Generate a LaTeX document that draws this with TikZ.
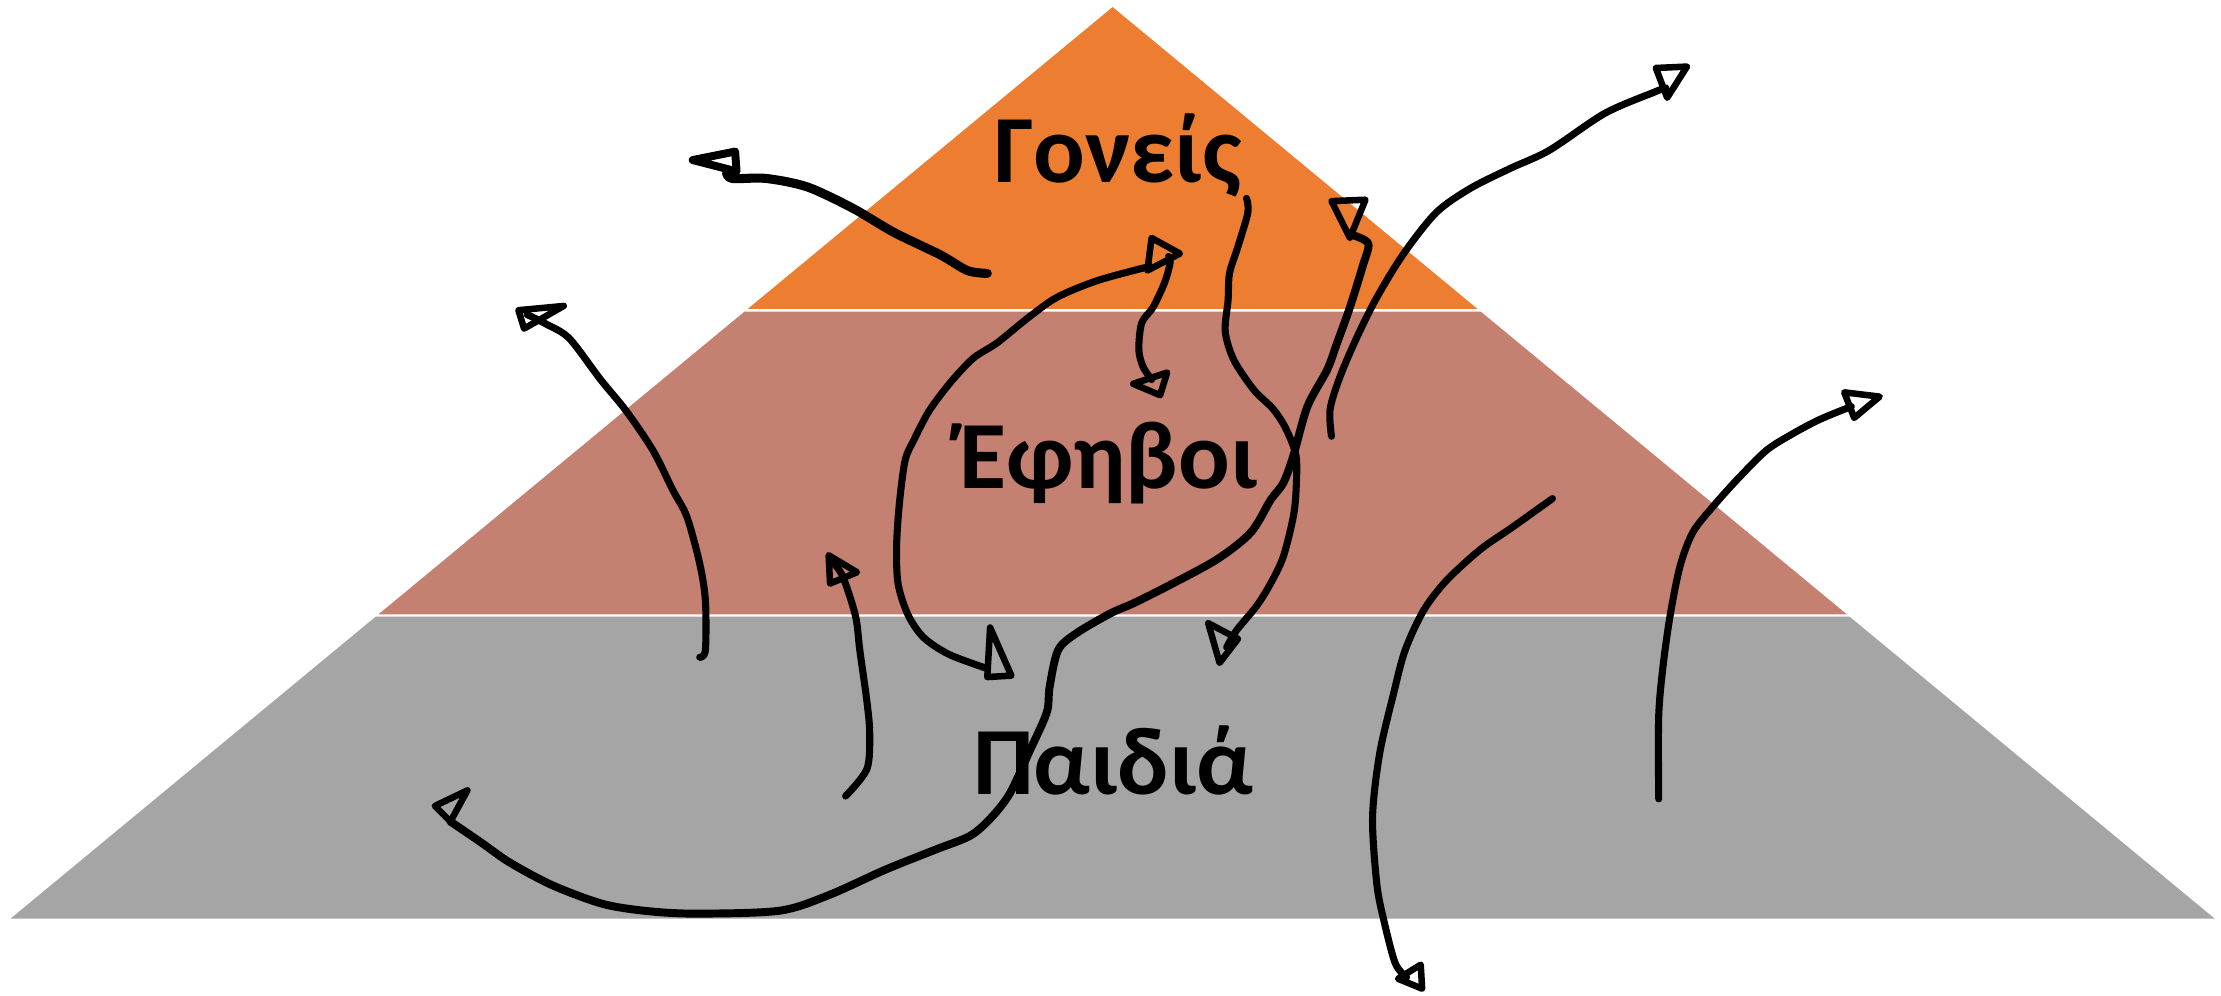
\documentclass[tikz,border=0pt]{standalone}
\usepackage{fontspec}
\setmainfont{Carlito}
\definecolor{cOrange}{HTML}{ED7D31}
\definecolor{cPink}{HTML}{C48070}
\definecolor{cGray}{HTML}{A5A5A5}
\tikzset{
  inkline/.style={draw=black, line width=5pt, line cap=round, line join=round},
  inkhead/.style={draw=black, line width=4.6pt, line cap=round, line join=round},
  layertext/.style={font=\bfseries\fontsize{68}{70}\selectfont, text=black, inner sep=0pt, anchor=base}
}
\begin{document}
\begin{tikzpicture}[x=1pt,y=-1pt]
\useasboundingbox (0,0) rectangle (1568,703);
% layers
\fill[cOrange] (785.5,5) -- (1043.1,218.1) -- (527.9,218.1) -- cycle;
\fill[cPink] (525.6,220) -- (1045.4,220) -- (1303.8,433.7) -- (267.2,433.7) -- cycle;
\fill[cGray] (265.3,435.3) -- (1305.7,435.3) -- (1563.5,648.5) -- (7.5,648.5) -- cycle;
% texts
\node[layertext] (tG) at (789,129) {Γονείς};
\node[layertext] (tE) at (782.5,345) {Έφηβοι};
\node[layertext] (tP) at (786,561) {Παιδιά};
% stroke A
\draw[inkline, line width=6.4pt] plot[smooth] coordinates {(697,193) (683,191) (664,180) (631,164) (602,147) (570,132) (541,126) (517,126) (513,122)};
\draw[inkhead, line width=5.6pt] (489,113) -- (519,107) -- (520,121) -- cycle;
% stroke B
\draw[inkline] plot[smooth] coordinates {(494,464) (498,459) (498,424) (494,398) (485,365) (475,346) (461,318) (442,290) (424,268) (402,239) (386,229) (372,222)};
\draw[inkhead] (366,219) -- (398,216) -- (370,232) -- cycle;
% stroke C
\draw[inkline] plot[smooth] coordinates {(597,562) (612,543) (614,518) (612,495) (607,459) (604,435) (595,407) (588,397)};
\draw[inkhead] (585,392) -- (605,404) -- (586,412) -- cycle;
% stroke D
\draw[inkline] plot[smooth] coordinates {(697,472) (670,462) (652,450) (641,434) (634,412) (633,385) (635,355) (639,325) (645,311) (656,290) (671,270) (687,253) (704,242) (725,225) (746,210) (775,198) (812,188)};
\draw[inkhead] (813,168) -- (833,179) -- (810,191) -- cycle;
\draw[inkhead] (699,443) -- (714,477) -- (697,478) -- cycle;
% stroke E
\draw[inkline] plot[smooth] coordinates {(825,181) (826,186) (822,200) (814,217) (806,228) (804,247) (807,259) (813,268)};
\draw[inkhead] (800,271) -- (824,263) -- (819,279) -- cycle;
% stroke F
\draw[inkline] plot[smooth] coordinates {(880,140) (881,150) (874,174) (868,193) (867,212) (865,234) (871,254) (885,275) (899,289) (908,303) (915,322) (915,346) (913,365) (906,393) (897,412) (887,428) (873,445) (866,457)};
\draw[inkhead] (853,440) -- (874,451) -- (861,468) -- cycle;
% stroke G
\draw[inkline, line width=5.6pt] plot[smooth] coordinates {(318,580) (340,595) (360,609) (390,625) (425,638) (455,643) (490,645) (550,643) (585,632) (625,614) (660,600) (685,590) (700,577) (713,560) (727,530) (739,503) (741,485) (747,459) (760,447) (784,433) (800,426) (824,414) (859,395) (883,376) (897,353) (906,341) (913,322) (923,287) (937,261) (944,242) (953,217) (962,188) (966,172) (955,166)};
\draw[inkhead] (307,569) -- (330,558) -- (318,580) -- cycle;
\draw[inkhead] (940,142) -- (964,141) -- (953,168) -- cycle;
% stroke H
\draw[inkline] plot[smooth] coordinates {(940,308) (939,289) (946,266) (958,238) (972,210) (991,179) (1014,150) (1038,133) (1066,119) (1094,106) (1133,80) (1168,65) (1176,62)};
\draw[inkhead] (1169,48) -- (1191,47) -- (1177,69) -- cycle;
% stroke I
\draw[inkline] plot[smooth] coordinates {(1096,352) (1068,372) (1045,388) (1021,410) (1005,431) (992,459) (984,489) (974,532) (969,577) (972,624) (977,650) (985,680) (993,690)};
\draw[inkhead] (987,691) -- (1003,681) -- (1004,698) -- cycle;
% stroke J
\draw[inkline] plot[smooth] coordinates {(1171,564) (1171,506) (1174,471) (1179,435) (1186,400) (1195,376) (1209,358) (1226,339) (1247,318) (1266,306) (1285,296) (1307,287)};
\draw[inkhead] (1302,277) -- (1327,280) -- (1309,295) -- cycle;
\end{tikzpicture}
\end{document}
